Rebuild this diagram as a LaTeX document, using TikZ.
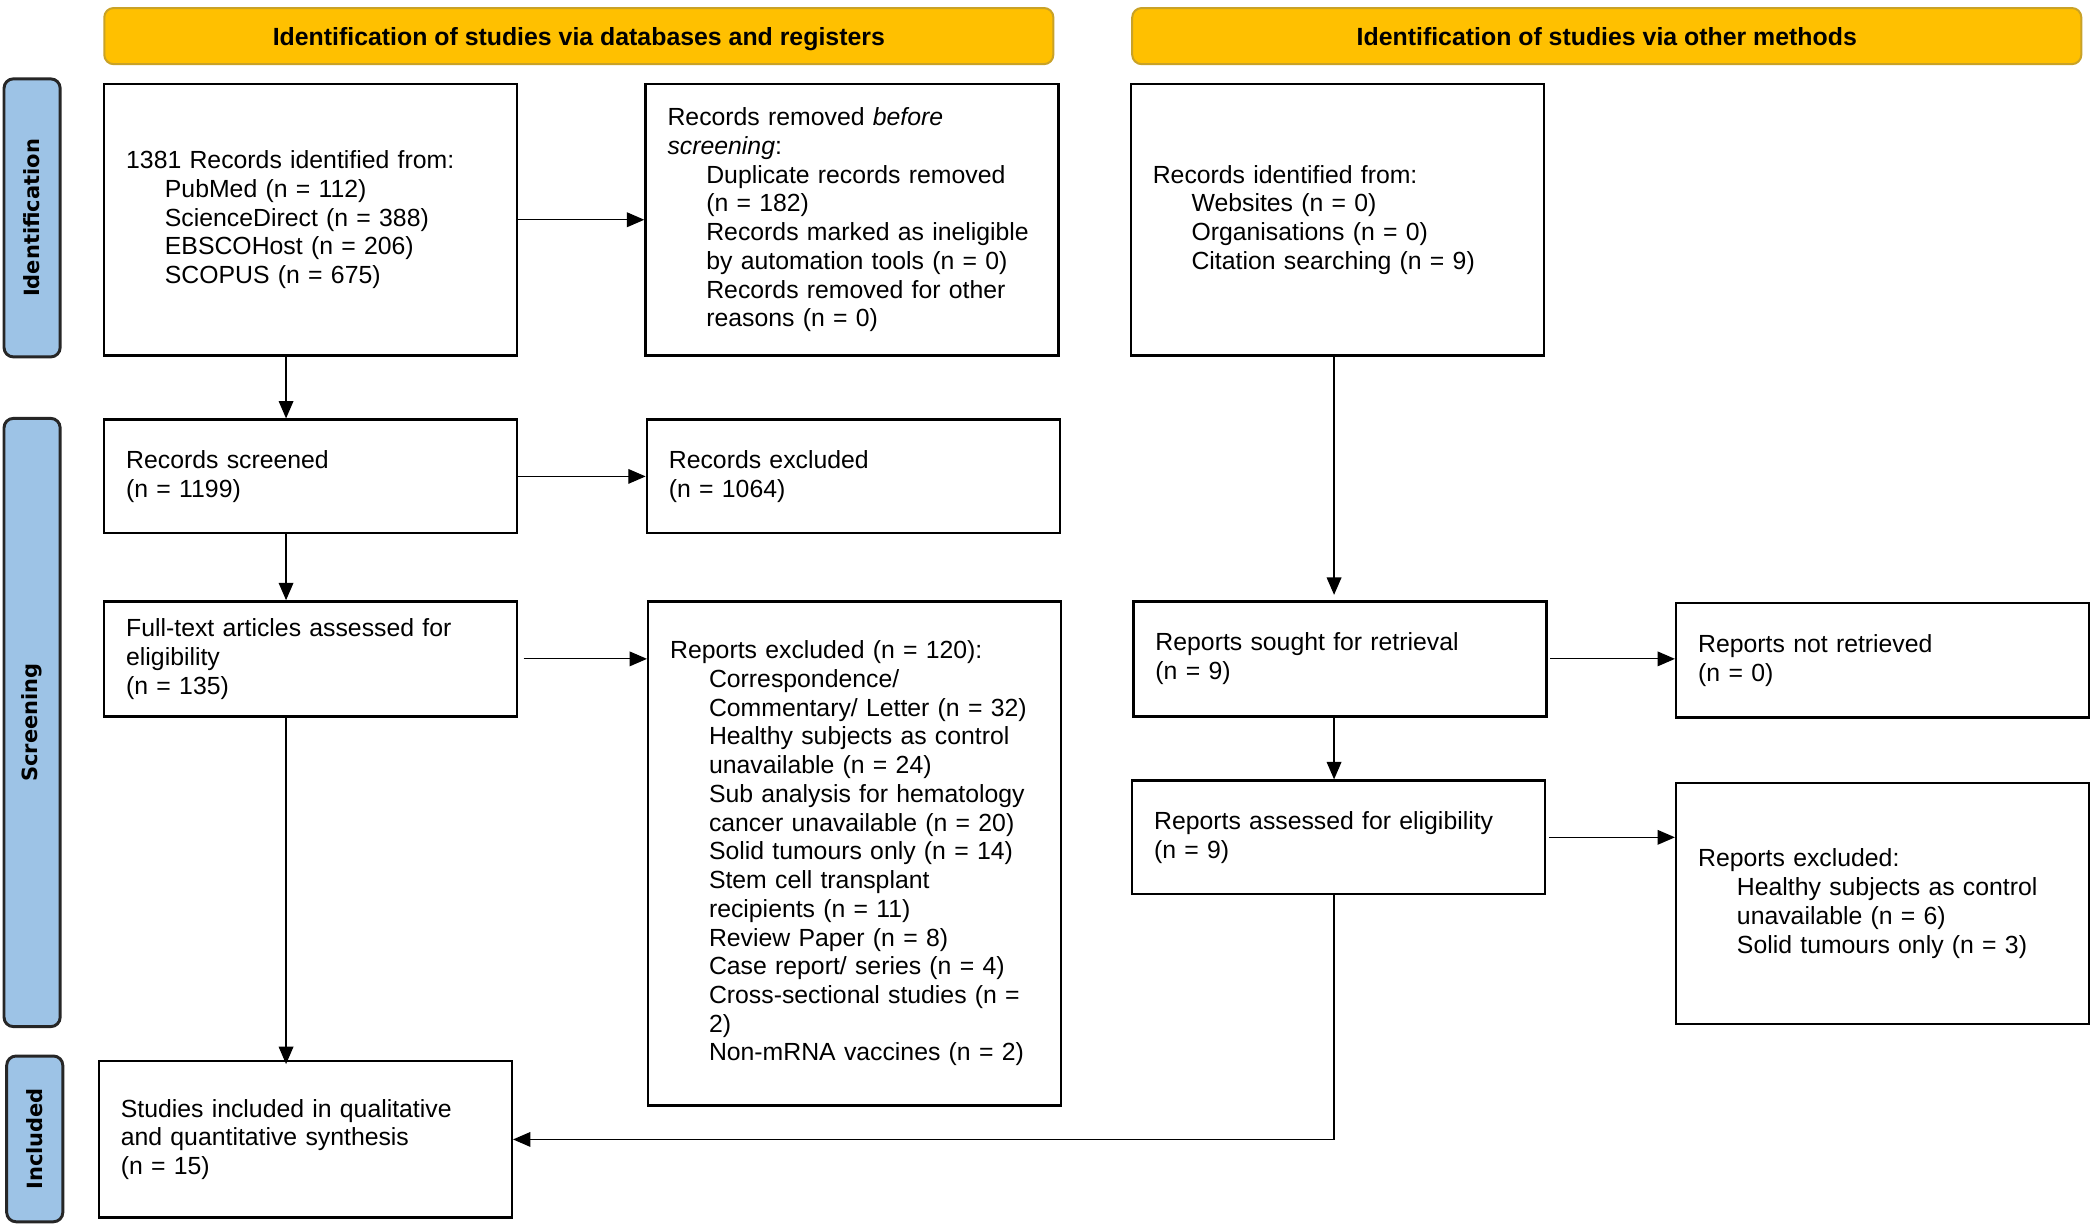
\documentclass[tikz,border=0pt]{standalone}
\usepackage{fontspec}
\setmainfont{Liberation Sans}
\newfontfamily\sidefont{DejaVu Sans}
\usetikzlibrary{arrows.meta}
\definecolor{hdrfill}{HTML}{FFC000}
\definecolor{hdrline}{HTML}{C9A227}
\definecolor{sidefill}{HTML}{9DC3E6}
\newcommand\subl{\hspace*{29pt}}
\begin{document}
\begin{tikzpicture}[x=1pt,y=-1pt,
 box/.style={draw, line width=1.8pt, anchor=north west, minimum width=309pt,
   text width=276pt, inner xsep=16.5pt, inner ysep=0pt, align=left,
   font=\fontsize{18.55}{21.5}\selectfont},
 hdr/.style={draw=hdrline, fill=hdrfill, line width=1.5pt, rounded corners=7pt,
   minimum width=710pt, minimum height=42pt, text height=15.5pt, text depth=1.5pt,
   font=\bfseries\fontsize{18.6}{21}\selectfont},
 side/.style={draw=black!85, fill=sidefill, line width=2.2pt, rounded corners=7pt,
   rotate=90, minimum height=42pt, inner sep=0pt,
   font=\sidefont\bfseries\fontsize{15.7}{18}\selectfont},
 arr/.style={line width=0.9pt, -{Triangle[length=13pt,width=11pt]}},
]
\useasboundingbox (0,0) rectangle (1568,917.2);

% headers
\node[hdr] (h1) at (433,27) {Identification of studies via databases and registers};
\node[hdr] (h2) at (1202,27) {Identification of studies via other methods};

% side labels
\node[side, minimum width=208pt] (s1) at (24,163) {Identification};
\node[side, minimum width=455pt] (s2) at (24,540.5) {Screening};
\node[side, minimum width=124pt] (s3) at (26,852) {Included};

% boxes
\node[box, minimum height=203pt] (A) at (77,62) {1381 Records identified from:\\
 \subl PubMed (n = 112)\\
 \subl ScienceDirect (n = 388)\\
 \subl EBSCOHost (n = 206)\\
 \subl SCOPUS (n = 675)};

\node[box, minimum height=203pt] (B) at (482,62) {Records removed \textit{before}\\
 \textit{screening}:\\
 \subl Duplicate records removed\\
 \subl (n = 182)\\
 \subl Records marked as ineligible\\
 \subl by automation tools (n = 0)\\
 \subl Records removed for other\\
 \subl reasons (n = 0)};

\node[box, minimum height=203pt] (C) at (845,62) {Records identified from:\\
 \subl Websites (n = 0)\\
 \subl Organisations (n = 0)\\
 \subl Citation searching (n = 9)};

\node[box, minimum height=85pt] (D) at (77,313) {Records screened\\ (n = 1199)};
\node[box, minimum height=85pt] (E) at (483,313) {Records excluded\\ (n = 1064)};

\node[box, minimum height=86pt] (F) at (77,449) {Full-text articles assessed for\\ eligibility\\ (n = 135)};

\node[box, minimum height=377pt] (G) at (484,449) {Reports excluded (n = 120):\\
 \subl Correspondence/\\
 \subl Commentary/ Letter (n = 32)\\
 \subl Healthy subjects as control\\
 \subl unavailable (n = 24)\\
 \subl Sub analysis for hematology\\
 \subl cancer unavailable (n = 20)\\
 \subl Solid tumours only (n = 14)\\
 \subl Stem cell transplant\\
 \subl recipients (n = 11)\\
 \subl Review Paper (n = 8)\\
 \subl Case report/ series (n = 4)\\
 \subl Cross-sectional studies (n =\\
 \subl 2)\\
 \subl Non-mRNA vaccines (n = 2)};

\node[box, minimum height=86pt] (H) at (847,449) {Reports sought for retrieval\\ (n = 9)};
\node[box, minimum height=86pt] (I) at (1253,450) {Reports not retrieved\\ (n = 0)};
\node[box, minimum height=85pt] (J) at (846,583) {Reports assessed for eligibility\\ (n = 9)};
\node[box, minimum height=180pt] (K) at (1253,585) {Reports excluded:\\
 \subl Healthy subjects as control\\
 \subl unavailable (n = 6)\\
 \subl Solid tumours only (n = 3)};

\node[box, minimum height=117pt] (L) at (73,793) {Studies included in qualitative\\ and quantitative synthesis\\ (n = 15)};

% connectors
\coordinate (cl) at (214,0);
\coordinate (cr) at (998,0);
\draw[arr] (A.east) -- (B.west);
\draw[arr] (A.south -| cl) -- (D.north -| cl);
\draw[arr] (D.east) -- (D.east -| E.west);
\draw[arr] (D.south -| cl) -- (F.north -| cl);
\draw[arr] ([xshift=4pt]F.east) -- (F.east -| G.west);
\draw[arr] (F.south -| cl) -- ([yshift=-3pt]L.north -| cl);
\draw[arr, shorten >=4pt] (C.south -| cr) -- (H.north -| cr);
\draw[arr] ([xshift=2pt]H.east) -- (H.east -| I.west);
\draw[arr] (H.south -| cr) -- (J.north -| cr);
\draw[arr] ([xshift=2pt]J.east) -- (J.east -| K.west);
\draw[arr] (J.south -| cr) |- (L.east);
\end{tikzpicture}
\end{document}
